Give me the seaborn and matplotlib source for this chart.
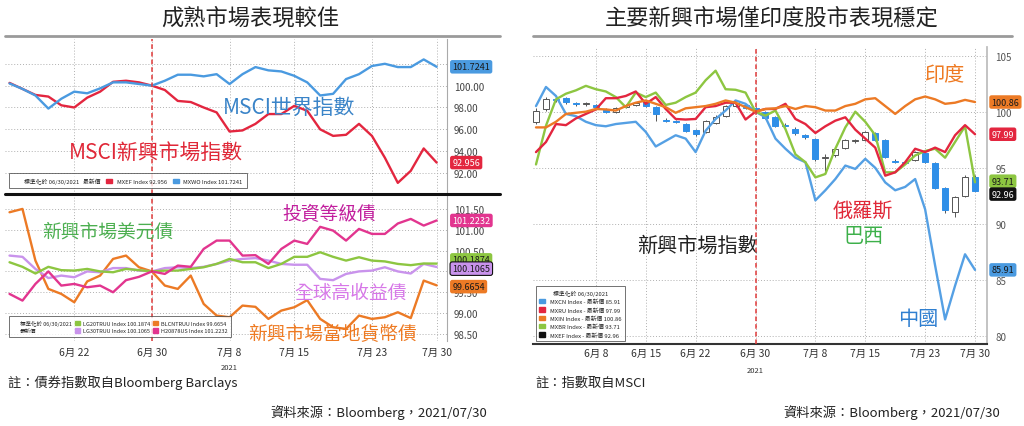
import numpy as np
import pandas as pd
import matplotlib
matplotlib.use('Agg')
import matplotlib.pyplot as plt
from matplotlib.lines import Line2D
from matplotlib.patches import Patch
import seaborn as sns

sns.set_theme(style='white')
plt.rcParams['font.family'] = ['Noto Sans CJK TC', 'DejaVu Sans']

# ---------------- data : left chart (normalised 06/30/2021 = 100) ----------------
left_dates = pd.bdate_range('2021-06-15', '2021-07-30')

msci_world = [100.2, 99.7, 99.1, 97.9, 98.8, 99.45, 99.3, 99.75, 100.3, 100.3, 100.15,
              100.0, 100.45, 101.0, 101.0, 100.85, 101.05, 100.15, 101.05, 101.7, 101.4,
              101.3, 100.9, 100.3, 99.1, 99.25, 100.6, 101.05, 101.8, 102.0, 101.7,
              101.7, 102.4, 101.7241]
msci_em = [100.25, 99.7, 99.15, 99.0, 98.2, 98.0, 98.9, 99.45, 100.35, 100.45, 100.3,
           100.0, 99.6, 98.6, 98.5, 98.0, 97.55, 95.8, 95.9, 96.5, 97.4,
           97.4, 98.15, 97.7, 96.0, 95.4, 95.5, 96.5, 95.4, 93.4, 91.1,
           92.2, 94.25, 92.956]

em_local = [101.42, 101.5, 100.26, 99.58, 99.46, 99.26, 99.76, 99.9, 100.3, 100.38, 100.1,
            100.0, 99.66, 99.58, 99.9, 99.22, 98.94, 98.9, 99.18, 99.15, 98.86,
            99.06, 99.14, 99.31, 98.86, 98.66, 98.62, 98.94, 98.86, 98.9, 99.02,
            98.88, 99.78, 99.6654]
inv_grade = [99.46, 99.3, 99.7, 100.0, 99.66, 99.7, 99.62, 99.66, 99.5, 99.79, 99.87,
             100.0, 99.94, 100.14, 100.11, 100.54, 100.74, 100.74, 100.38, 100.39, 100.18,
             100.54, 100.74, 100.66, 101.07, 100.98, 100.74, 101.02, 100.9, 100.9, 101.15,
             101.26, 101.1, 101.2232]
em_usd = [100.22, 100.11, 99.95, 100.11, 100.03, 100.02, 100.06, 100.0, 99.98, 100.06, 100.03,
          100.0, 100.02, 100.02, 100.06, 100.1, 100.18, 100.3, 100.22, 100.22, 100.08,
          100.18, 100.35, 100.35, 100.46, 100.35, 100.26, 100.34, 100.26, 100.24, 100.18,
          100.15, 100.19, 100.1874]
global_hy = [100.38, 100.35, 100.06, 99.84, 99.9, 99.86, 100.0, 99.98, 100.08, 100.08, 100.02,
             100.0, 100.08, 100.1, 100.08, 100.11, 100.18, 100.26, 100.3, 100.32, 100.26,
             100.18, 100.16, 100.16, 99.82, 99.79, 99.94, 100.0, 100.02, 100.1, 100.0,
             99.95, 100.18, 100.1065]

# ---------------- data : right chart ----------------
right_dates = pd.bdate_range('2021-05-31', '2021-07-30')

india = [98.6, 98.6, 99.1, 99.8, 99.9, 100.0, 100.24, 100.2, 100.1, 100.5, 100.8, 101.0,
         100.7, 100.4, 99.9, 100.3, 100.4, 100.5, 100.7, 101.0, 100.8, 100.4, 100.0,
         100.24, 100.3, 100.5, 100.24, 100.5, 100.4, 100.1, 100.1, 100.5, 100.7, 101.1,
         101.2, 100.5, 99.8, 100.5, 101.1, 101.35, 101.1, 100.7, 100.8, 101.05, 100.86]
russia = [96.4, 97.3, 98.9, 98.8, 99.4, 99.8, 100.2, 101.2, 101.2, 101.4, 101.8, 100.7,
          101.3, 100.24, 99.35, 99.3, 99.35, 100.4, 100.5, 100.8, 100.8, 99.3, 100.0,
          100.24, 100.24, 100.7, 99.35, 98.9, 98.1, 98.7, 99.2, 99.5, 98.4, 97.6,
          96.8, 94.3, 94.6, 95.5, 96.7, 96.4, 96.8, 96.4, 97.9, 98.8, 97.99]
brazil = [95.3, 98.75, 101.1, 101.6, 101.9, 102.3, 102.0, 101.8, 101.3, 100.4, 101.7, 101.3,
          101.7, 100.6, 100.8, 101.3, 101.7, 102.8, 103.65, 102.0, 101.95, 101.7, 100.0,
          99.65, 100.1, 98.45, 96.2, 95.5, 94.15, 94.45, 96.7, 98.6, 100.0, 99.1,
          97.9, 94.6, 94.6, 95.3, 96.1, 96.5, 96.7, 95.9, 97.3, 98.7, 93.71]
china = [100.5, 102.2, 101.4, 99.8, 99.6, 99.1, 98.8, 98.7, 98.9, 99.0, 99.1, 98.2,
         96.9, 97.4, 97.9, 97.6, 96.4, 98.3, 99.35, 100.1, 101.0, 100.7, 100.0,
         99.5, 97.6, 96.7, 95.9, 95.5, 92.1, 93.0, 94.0, 95.2, 94.9, 95.8,
         95.0, 93.7, 93.0, 93.3, 94.0, 91.3, 86.3, 81.5, 84.5, 87.3, 85.91]

# MSCI EM candles
em_open = [99.10, 100.25, 101.15, 101.20, 100.75, 100.65, 100.60, 100.25, 99.95, 100.45,
           100.60, 100.85, 100.45, 99.30, 99.20, 98.90, 98.40, 98.20, 99.00, 99.60,
           100.50, 100.60, 100.30, 99.95, 99.50, 98.85, 98.50, 97.90, 97.55, 95.90,
           96.10, 96.80, 97.35, 97.50, 98.10, 97.45, 95.65, 95.50, 95.70, 96.30,
           95.40, 93.20, 91.10, 92.50, 94.20]
em_close = [100.05, 101.10, 101.00, 100.85, 100.65, 100.75, 100.45, 100.00, 100.35, 100.60,
            100.80, 100.50, 99.80, 99.20, 99.10, 98.30, 98.00, 99.15, 99.50, 100.50,
            100.75, 100.30, 100.00, 99.45, 98.75, 98.75, 98.10, 97.75, 95.80, 96.00,
            96.70, 97.50, 97.45, 98.20, 97.50, 96.00, 95.50, 95.40, 96.40, 95.55,
            93.20, 91.20, 92.40, 94.20, 92.96]
em_high = [100.3, 101.3, 101.3, 101.3, 100.85, 100.85, 100.7, 100.35, 100.45, 100.7,
           100.9, 100.95, 100.5, 99.4, 99.3, 99.0, 98.5, 99.3, 99.7, 100.6,
           100.85, 100.7, 100.4, 100.05, 99.6, 98.95, 98.6, 98.0, 97.65, 96.2,
           96.8, 97.6, 97.55, 98.3, 98.2, 97.55, 95.75, 95.6, 96.5, 96.4,
           95.5, 93.3, 92.5, 94.4, 94.35]
em_low = [98.9, 100.1, 100.9, 100.7, 100.55, 100.55, 100.35, 99.9, 99.85, 100.35,
          100.5, 100.4, 99.2, 99.1, 99.0, 98.2, 97.8, 98.1, 98.9, 99.5,
          100.4, 100.2, 99.9, 99.35, 98.6, 98.6, 97.95, 97.6, 95.6, 94.7,
          96.0, 96.7, 97.25, 97.4, 97.4, 95.9, 95.4, 95.3, 95.6, 95.4,
          93.1, 91.0, 90.6, 92.4, 92.9]

left_ticks = ['2021-06-22', '2021-06-30', '2021-07-08', '2021-07-15', '2021-07-23', '2021-07-30']
right_ticks = ['2021-06-08', '2021-06-15', '2021-06-22', '2021-06-30',
               '2021-07-08', '2021-07-15', '2021-07-23', '2021-07-30']

# colours
c_world = '#4a9ae0'
c_em = '#e3263f'
c_green = '#8dc641'
c_purple = '#c993ec'
c_orange = '#ec7a25'
c_magenta = '#e2358f'
c_cndl = '#2f8fe8'

W, H = 1024, 427
fig = plt.figure(figsize=(W / 100, H / 100), dpi=100)


def box(l, t, r, b):
    return [l / W, 1 - b / H, (r - l) / W, (b - t) / H]


def idx_of(dates, days):
    return [dates.get_loc(pd.Timestamp(d)) for d in days]


def md_label(d):
    d = pd.Timestamp(d)
    return f'{d.month}月 {d.day}'


def value_box(ax, y, txt, fc, tc='white', ec='none', x=1.012):
    ax.text(x, y, txt, transform=ax.get_yaxis_transform(), ha='left', va='center',
            fontsize=6.5, color=tc,
            bbox=dict(boxstyle='round,pad=0.25', fc=fc, ec=ec, lw=0.8), clip_on=False, zorder=10)


def year_label(ax, x):
    # small "2021" under the tick labels
    ax.annotate('2021', xy=(x, 0), xycoords=('data', 'axes fraction'), xytext=(0, -16),
                textcoords='offset points', ha='center', va='top', fontsize=5.5,
                color='#333333')


grid_kw = dict(ls=(0, (1, 2)), color='#b0b0b0', lw=0.7)

# ================= left top =================
xl = np.arange(len(left_dates))
lt = idx_of(left_dates, left_ticks)
i630 = left_dates.get_loc(pd.Timestamp('2021-06-30'))

ax1 = fig.add_axes(box(5, 40, 447, 195))
sns.lineplot(x=xl, y=msci_em, ax=ax1, color=c_em, lw=1.7)
sns.lineplot(x=xl, y=msci_world, ax=ax1, color=c_world, lw=1.7)
ax1.set_xlim(-0.35, 33.8)
ax1.set_ylim(90.08, 104.27)
ax1.set_yticks([92, 94, 96, 98, 100, 102])
ax1.set_yticklabels(['92.00', '94.00', '96.00', '98.00', '100.00', ''])
ax1.set_xticks(lt)
ax1.set_xticklabels([])
ax1.grid(True, **grid_kw)
ax1.axvline(i630, color='#e03a3a', ls=(0, (3, 2)), lw=1.1)
value_box(ax1, msci_world[-1], '101.7241', c_world, tc='#1a1a1a')
value_box(ax1, msci_em[-1], '92.956', c_em)
ax1.text(16.5, 98.1, 'MSCI世界指數', color='#3a84c8', fontsize=15, va='center')
ax1.text(4.6, 93.9, 'MSCI新興市場指數', color='#e02838', fontsize=15, va='center')
h_top = [Line2D([], [], color='none', label='標準化於 06/30/2021   最新價'),
         Patch(color=c_em, label='MXEF Index 92.956'),
         Patch(color=c_world, label='MXWO Index 101.7241')]
lg = ax1.legend(handles=h_top, ncol=3, loc='lower left', bbox_to_anchor=(0.003, 0.02),
                fontsize=4.2, frameon=True, fancybox=False, handlelength=1, handleheight=0.8,
                columnspacing=1, borderpad=0.7)
lg.get_frame().set_edgecolor('#333333')
lg.get_frame().set_linewidth(0.6)

# ================= left bottom =================
ax2 = fig.add_axes(box(5, 197, 447, 342))
sns.lineplot(x=xl, y=em_local, ax=ax2, color=c_orange, lw=1.7)
sns.lineplot(x=xl, y=global_hy, ax=ax2, color=c_purple, lw=1.7)
sns.lineplot(x=xl, y=em_usd, ax=ax2, color=c_green, lw=1.7)
sns.lineplot(x=xl, y=inv_grade, ax=ax2, color=c_magenta, lw=1.7)
ax2.set_xlim(-0.35, 33.8)
ax2.set_ylim(98.33, 101.81)
ax2.set_yticks([98.5, 99.0, 99.5, 100.0, 100.5, 101.0, 101.5])
# 100.00 sits under the value boxes, as in the original
ax2.set_yticklabels(['98.50', '99.00', '99.50', '', '100.50', '101.00', '101.50'])
ax2.set_xticks(lt)
ax2.set_xticklabels([md_label(d) for d in left_ticks])
ax2.grid(True, **grid_kw)
ax2.axvline(i630, color='#e03a3a', ls=(0, (3, 2)), lw=1.1)
value_box(ax2, inv_grade[-1], '101.2232', c_magenta)
value_box(ax2, em_usd[-1] + 0.09, '100.1874', c_green, tc='#1a1a1a')
value_box(ax2, global_hy[-1] - 0.04, '100.1065', c_purple, tc='#1a1a1a', ec='#111111')
value_box(ax2, em_local[-1] - 0.03, '99.6654', c_orange, tc='#1a1a1a')
ax2.text(2.5, 100.97, '新興市場美元債', color='#4caf50', fontsize=13.5, va='center')
ax2.text(21.1, 101.40, '投資等級債', color='#c21f9e', fontsize=13.5, va='center')
ax2.text(22.0, 99.50, '全球高收益債', color='#d778e8', fontsize=13.5, va='center')
ax2.text(18.4, 98.50, '新興市場當地貨幣債', color='#ee7a22', fontsize=13.5, va='center')
year_label(ax2, left_dates.get_loc(pd.Timestamp('2021-07-08')))
h_bot = [Line2D([], [], color='none', label='標準化於 06/30/2021'),
         Line2D([], [], color='none', label='最新價'),
         Patch(color=c_green, label='LG20TRUU Index 100.1874'),
         Patch(color=c_purple, label='LG30TRUU Index 100.1065'),
         Patch(color=c_orange, label='BLCNTRUU Index 99.6654'),
         Patch(color=c_magenta, label='H20878US Index 101.2232')]
lg2 = ax2.legend(handles=h_bot, ncol=3, loc='lower left', bbox_to_anchor=(0.003, 0.01),
                 fontsize=4.0, frameon=True, fancybox=False, handlelength=0.9, handleheight=0.8,
                 handletextpad=0.5, columnspacing=0.5, borderpad=0.6, labelspacing=0.5)
lg2.get_frame().set_edgecolor('#333333')
lg2.get_frame().set_linewidth(0.6)

for ax in (ax1, ax2):
    ax.yaxis.tick_right()
    ax.tick_params(axis='y', labelsize=7, colors='#444444', length=0, pad=5)
    ax.tick_params(axis='x', labelsize=7.5, colors='#333333', length=0, pad=4)
    ax.spines['left'].set_visible(False)
    ax.spines['top'].set_visible(False)
    ax.spines['right'].set_color('#aaaaaa')
    ax.spines['right'].set_linewidth(0.8)
    ax.set_facecolor('white')
ax1.spines['bottom'].set_visible(False)
ax2.spines['bottom'].set_visible(False)

# ================= right =================
xr = np.arange(len(right_dates))
rt = idx_of(right_dates, right_ticks)
j630 = right_dates.get_loc(pd.Timestamp('2021-06-30'))

ax3 = fig.add_axes(box(533, 48, 987, 345))
o = np.array(em_open)
c = np.array(em_close)
up = c >= o
body_lo = np.minimum(o, c)
body_h = np.maximum(np.abs(c - o), 0.07)
ax3.vlines(xr, em_low, em_high, color='#555555', lw=0.7, zorder=2)
ax3.bar(xr[up], body_h[up], bottom=body_lo[up], width=0.6, color='white',
        edgecolor='#555555', lw=0.7, zorder=3)
ax3.bar(xr[~up], body_h[~up], bottom=body_lo[~up], width=0.6, color=c_cndl,
        edgecolor=c_cndl, lw=0.7, zorder=3)
sns.lineplot(x=xr, y=china, ax=ax3, color='#55a0e4', lw=1.7, zorder=4)
sns.lineplot(x=xr, y=brazil, ax=ax3, color=c_green, lw=1.7, zorder=4)
sns.lineplot(x=xr, y=russia, ax=ax3, color=c_em, lw=1.7, zorder=4)
sns.lineplot(x=xr, y=india, ax=ax3, color=c_orange, lw=1.7, zorder=4)
ax3.set_xlim(-0.3, 45.2)
ax3.set_ylim(79.31, 105.76)
ax3.set_yticks([80, 85, 90, 95, 100, 105])
ax3.set_xticks(rt)
ax3.set_xticklabels([md_label(d) for d in right_ticks])
ax3.grid(True, **grid_kw)
ax3.axvline(j630, color='#e03a3a', ls=(0, (3, 2)), lw=1.1, zorder=5)
ax3.yaxis.tick_right()
ax3.tick_params(axis='y', labelsize=7, colors='#555555', length=0, pad=6)
ax3.tick_params(axis='x', labelsize=7.5, colors='#333333', length=3, width=0.8,
                color='#444444', pad=3, direction='in')
ax3.spines['left'].set_visible(False)
ax3.spines['top'].set_visible(False)
ax3.spines['right'].set_color('#bbbbbb')
ax3.spines['bottom'].set_color('#333333')
ax3.spines['bottom'].set_linewidth(1.5)
value_box(ax3, india[-1], '100.86', c_orange, tc='#1a1a1a', x=1.01)
value_box(ax3, russia[-1], '97.99', c_em, x=1.01)
value_box(ax3, brazil[-1] + 0.1, '93.71', c_green, tc='#1a1a1a', x=1.01)
value_box(ax3, em_close[-1] - 0.3, '92.96', '#111111', x=1.01)
value_box(ax3, china[-1], '85.91', c_world, tc='#1a1a1a', x=1.01)
ax3.text(39.0, 103.27, '印度', color='#ee7a22', fontsize=14.5, va='center')
ax3.text(29.7, 91.25, '俄羅斯', color='#e02838', fontsize=14.5, va='center')
ax3.text(30.8, 89.0, '巴西', color='#3db04a', fontsize=14.5, va='center')
ax3.text(10.1, 88.1, '新興市場指數', color='#222222', fontsize=14.5, va='center')
ax3.text(36.3, 81.6, '中國', color='#2f7fd0', fontsize=14.5, va='center')
year_label(ax3, j630)
h_r = [Patch(color=c_world, label='MXCN Index - 最新價 85.91'),
       Patch(color=c_em, label='MXRU Index - 最新價 97.99'),
       Patch(color=c_orange, label='MXIN Index - 最新價 100.86'),
       Patch(color=c_green, label='MXBR Index - 最新價 93.71'),
       Patch(color='#111111', label='MXEF Index - 最新價 92.96')]
lg3 = ax3.legend(handles=h_r, loc='lower left', bbox_to_anchor=(0.0, 0.0), fontsize=4.2,
                 title='標準化於 06/30/2021', title_fontsize=4.2, frameon=True, fancybox=False,
                 handlelength=1, handleheight=0.8, borderpad=0.6, labelspacing=0.5)
lg3.get_frame().set_edgecolor('#333333')
lg3.get_frame().set_linewidth(0.6)

# ================= titles, rules and notes =================
fig.text(250 / W, 1 - 18 / H, '成熟市場表現較佳', ha='center', va='center',
         fontsize=16, color='#222222')
fig.text(772 / W, 1 - 18 / H, '主要新興市場僅印度股市表現穩定', ha='center', va='center',
         fontsize=16, color='#222222')
fig.add_artist(Line2D([5 / W, 500 / W], [1 - 37 / H] * 2, color='#9a9a9a', lw=2))
fig.add_artist(Line2D([533 / W, 1012 / W], [1 - 37 / H] * 2, color='#9a9a9a', lw=2))
fig.add_artist(Line2D([5 / W, 500 / W], [1 - 195 / H] * 2, color='#111111', lw=2.2))

fig.text(8 / W, 1 - 383 / H, '註：債券指數取自Bloomberg Barclays', ha='left', va='center',
         fontsize=9.5, color='#222222')
fig.text(487 / W, 1 - 413 / H, '資料來源：Bloomberg，2021/07/30', ha='right', va='center',
         fontsize=9.5, color='#222222')
fig.text(535 / W, 1 - 383 / H, '註：指數取自MSCI', ha='left', va='center',
         fontsize=9.5, color='#222222')
fig.text(1000 / W, 1 - 413 / H, '資料來源：Bloomberg，2021/07/30', ha='right', va='center',
         fontsize=9.5, color='#222222')

fig.savefig('out.png', dpi=100, facecolor='white')
